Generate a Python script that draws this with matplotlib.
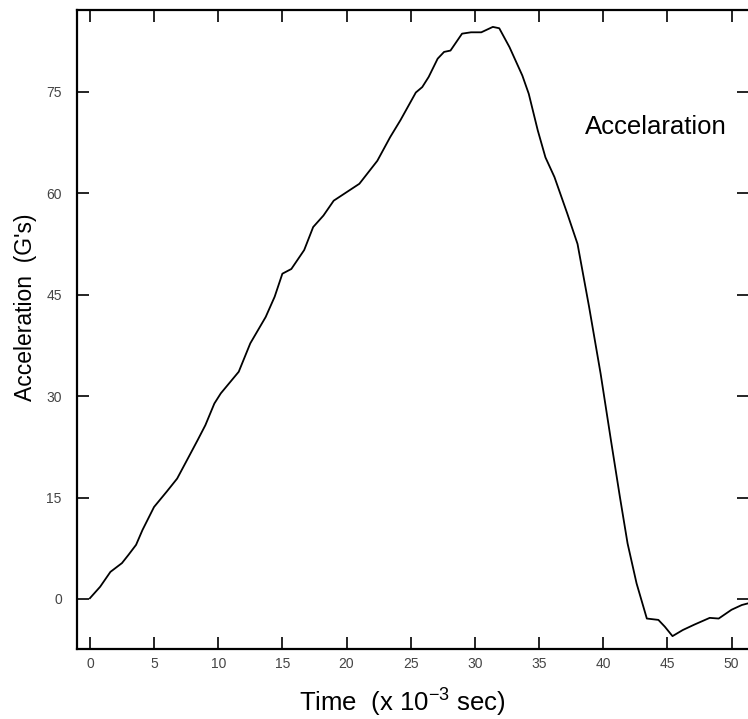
import matplotlib.pyplot as plt
import numpy as np

plt.rcParams['font.family'] = ['Liberation Sans', 'DejaVu Sans']
plt.rcParams['mathtext.fontset'] = 'custom'
plt.rcParams['mathtext.rm'] = 'Liberation Sans'

# time (ms) and acceleration (G's)
time = [0.0, 0.8, 1.6, 2.5, 3.0, 3.6, 4.1, 5.0, 6.0, 6.8, 7.7, 8.4, 9.0, 9.7,
        10.2, 11.6, 12.5, 13.7, 14.4, 15.0, 15.7, 16.7, 17.4, 18.2, 19.0,
        19.8, 21.0, 22.4, 23.4, 24.2, 25.4, 25.9, 26.4, 27.1, 27.6, 28.1,
        29.0, 29.7, 30.5, 31.4, 31.9, 32.7, 33.7, 34.2, 34.9, 35.5, 36.2,
        37.2, 38.0, 38.9, 39.8, 40.6, 41.3, 41.9, 42.6, 43.4, 44.3, 44.8,
        45.4, 46.2, 47.1, 48.3, 49.0, 50.0, 50.8, 51.4]
accel = [0.1, 1.8, 4.0, 5.3, 6.5, 8.0, 10.2, 13.6, 15.9, 17.8, 21.0, 23.5,
         25.7, 28.9, 30.4, 33.6, 37.8, 41.7, 44.7, 48.1, 48.8, 51.6, 55.0,
         56.7, 58.9, 59.9, 61.4, 64.8, 68.3, 70.8, 74.9, 75.7, 77.2, 79.9,
         80.9, 81.1, 83.6, 83.8, 83.8, 84.6, 84.4, 81.6, 77.4, 74.7, 69.3,
         65.3, 62.4, 57.0, 52.5, 43.2, 33.3, 23.5, 15.1, 8.2, 2.3, -2.9,
         -3.1, -4.1, -5.5, -4.6, -3.8, -2.8, -2.9, -1.6, -0.9, -0.6]

xticks = [0, 5, 10, 15, 20, 25, 30, 35, 40, 45, 50]
yticks = [0, 15, 30, 45, 60, 75]

fig = plt.figure(figsize=(7.48, 7.19), dpi=100)
ax = fig.add_axes([0.103, 0.0974, 0.899, 0.8887])

ax.plot(time, accel, color='black', lw=1.3)

ax.set_xlim(-1.0, 51.4)
ax.set_ylim(-7.4, 87.1)
ax.set_xticks(xticks)
ax.set_yticks(yticks)
ax.tick_params(direction='in', length=8.5, width=1.2, top=True, right=True,
               labelsize=10, labelcolor='#444444', colors='black')
ax.tick_params(axis='y', pad=11, labelcolor='#444444')
ax.tick_params(axis='x', pad=6, labelcolor='#444444')

for s in ['left', 'bottom', 'top']:
    ax.spines[s].set_linewidth(1.6)
ax.spines['right'].set_visible(False)

ax.set_xlabel(r'Time  (x 10$^{\mathregular{-3}}$ sec)', fontsize=18.5)
ax.xaxis.set_label_coords(0.484, -0.057)
ax.set_ylabel("Acceleration  (G's)", fontsize=16.5)
ax.yaxis.set_label_coords(-0.06, 0.535)

ax.text(0.755, 0.817, 'Accelaration', transform=ax.transAxes, fontsize=18.5,
        ha='left', va='center')

fig.savefig('out.png', dpi=100)
